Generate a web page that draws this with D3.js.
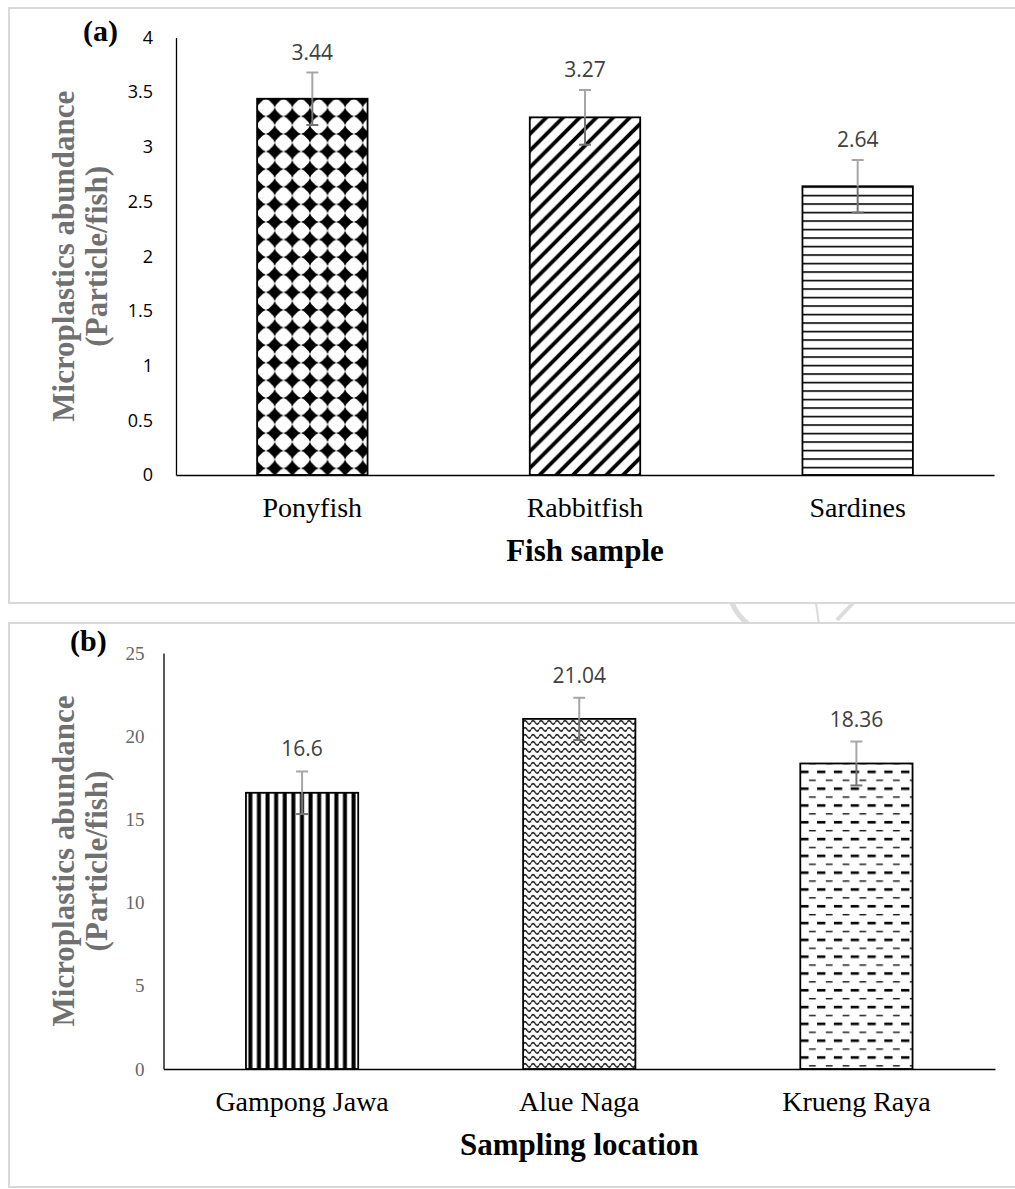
<!DOCTYPE html>
<html>
<head>
<meta charset="utf-8">
<script src="https://cdn.jsdelivr.net/npm/d3@7"></script>
<style>
  body { margin: 0; background: #fff; }
</style>
</head>
<body>
<div id="chart"></div>
<script>
// (a) fish species
var fishSamples = ["Ponyfish", "Rabbitfish", "Sardines"];
var fishAbundance = [3.44, 3.27, 2.64];
var fishError = [0.24, 0.25, 0.24];
var fishTicks = [0, 0.5, 1, 1.5, 2, 2.5, 3, 3.5, 4];

// (b) sampling locations
var locations = ["Gampong Jawa", "Alue Naga", "Krueng Raya"];
var locationAbundance = [16.6, 21.04, 18.36];
var locationError = [1.28, 1.27, 1.32];
var locationTicks = [0, 5, 10, 15, 20, 25];

var svgWidth = 1015;
var svgHeight = 1189;

var svg = d3.select("#chart")
    .append("svg")
    .attr("width", svgWidth)
    .attr("height", svgHeight);

var defs = svg.append("defs");

// watermark bits visible between the two panels
var wm = svg.append("g").attr("fill", "none").attr("stroke", "#dcdcdc");
wm.append("path").attr("d", "M732,603 Q737,615 748,624").attr("stroke-width", 5);
wm.append("path").attr("d", "M816,603 L819,624").attr("stroke-width", 2);
wm.append("path").attr("d", "M837,620 L853,603").attr("stroke-width", 4);

// panel frames
svg.append("rect")
    .attr("x", 9).attr("y", 8).attr("width", 1020).attr("height", 595)
    .attr("fill", "#fff").attr("stroke", "#d9d9d9").attr("stroke-width", 2);
svg.append("rect")
    .attr("x", 9).attr("y", 623).attr("width", 1020).attr("height", 564)
    .attr("fill", "#fff").attr("stroke", "#d9d9d9").attr("stroke-width", 2);

//Fill patterns, anchored on each bar
function starPath(cx, cy) {
  var pts = [[0,-8.8],[1.4,-5.8],[5.8,-1.4],[8.8,0],[5.8,1.4],[1.4,5.8],
             [0,8.8],[-1.4,5.8],[-5.8,1.4],[-8.8,0],[-5.8,-1.4],[-1.4,-5.8]];
  return "M" + pts.map(p => (cx + p[0]) + "," + (cy + p[1])).join("L") + "Z";
}

function addPattern(id, kind, bx, by) {
  var p = defs.append("pattern")
      .attr("id", id)
      .attr("patternUnits", "userSpaceOnUse");
  var s;
  if (kind == "star") {
    s = 17.6;
    p.attr("x", bx).attr("y", by).attr("width", s).attr("height", s);
    p.append("rect").attr("width", s).attr("height", s).attr("fill", "#fff");
    [[0,0],[s,0],[0,s],[s,s]].forEach(function(c) {
      p.append("path").attr("d", starPath(c[0], c[1])).attr("fill", "#000");
    });
  } else if (kind == "diagonal") {
    s = 16.7;
    p.attr("x", bx).attr("y", by).attr("width", s).attr("height", s);
    p.append("rect").attr("width", s).attr("height", s).attr("fill", "#fff");
    p.append("path")
      .attr("d", `M${-s/2},${s/2} L${s/2},${-s/2} M0,${s} L${s},0 M${s/2},${1.5*s} L${1.5*s},${s/2}`)
      .attr("stroke", "#000").attr("stroke-width", 3.8);
  } else if (kind == "hlines") {
    p.attr("x", bx).attr("y", by).attr("width", 10).attr("height", 8.5);
    p.append("rect").attr("width", 10).attr("height", 8.5).attr("fill", "#fff");
    p.append("rect").attr("y", 0).attr("width", 10).attr("height", 1.6).attr("fill", "#000");
  } else if (kind == "vlines") {
    p.attr("x", bx).attr("y", by).attr("width", 8.6).attr("height", 10);
    p.append("rect").attr("width", 8.6).attr("height", 10).attr("fill", "#fff");
    p.append("rect").attr("x", 2.4).attr("width", 4).attr("height", 10).attr("fill", "#000");
  } else if (kind == "wave") {
    p.attr("x", bx).attr("y", by).attr("width", 8).attr("height", 7);
    p.append("rect").attr("width", 8).attr("height", 7).attr("fill", "#fff");
    p.append("path")
      .attr("d", "M0,3.5 Q2,0 4,3.5 Q6,7 8,3.5")
      .attr("fill", "none").attr("stroke", "#000").attr("stroke-width", 1.3);
  } else if (kind == "dash") {
    s = 16.8;
    p.attr("x", bx).attr("y", by + 4.2).attr("width", s).attr("height", s);
    p.append("rect").attr("width", s).attr("height", s).attr("fill", "#fff");
    p.append("rect").attr("x", 0).attr("y", 2.9).attr("width", 8.3).attr("height", 2.6).attr("fill", "#000");
    p.append("rect").attr("x", 8.7).attr("y", 11.95).attr("width", 6.8).attr("height", 1.3).attr("fill", "#000");
  }
}

function drawPanel(cfg) {
  var g = svg.append("g");

  var xBandScale = d3.scaleBand()
      .domain(cfg.categories)
      .range(cfg.xRange)
      .paddingInner(0.595)
      .paddingOuter(0.2975);

  var yLinearScale = d3.scaleLinear()
      .domain([0, d3.max(cfg.ticks)])
      .range(cfg.yRange);

  var data = cfg.categories.map(function(c, i) {
    return { name: c, value: cfg.values[i], err: cfg.errors[i], pattern: cfg.patterns[i], id: cfg.id + i };
  });

  data.forEach(function(d) {
    addPattern(d.id, d.pattern, xBandScale(d.name), yLinearScale(d.value));
  });

  //bars
  g.append("g").selectAll("rect")
    .data(data)
    .enter()
    .append("rect")
    .attr("x", d => xBandScale(d.name))
    .attr("y", d => yLinearScale(d.value))
    .attr("width", xBandScale.bandwidth())
    .attr("height", d => yLinearScale(0) - yLinearScale(d.value))
    .attr("fill", d => `url(#${d.id})`)
    .attr("stroke", "#000")
    .attr("stroke-width", 1.8);

  //axes
  var leftAxis = d3.axisLeft(yLinearScale)
      .tickValues(cfg.ticks)
      .tickFormat(d => String(d))
      .tickSize(0)
      .tickPadding(cfg.tickPad);
  var yAxis = g.append("g")
      .attr("transform", `translate(${cfg.xRange[0]},0)`)
      .call(leftAxis);
  yAxis.select(".domain").attr("stroke", "#000").attr("stroke-width", 1.3);
  yAxis.selectAll("text")
      .attr("font-family", cfg.tickFont)
      .attr("font-size", cfg.tickSize)
      .attr("fill", cfg.tickColor);

  var bottomAxis = d3.axisBottom(xBandScale).tickSize(0).tickSizeOuter(0);
  var xAxis = g.append("g")
      .attr("transform", `translate(0,${cfg.yRange[0]})`)
      .call(bottomAxis);
  xAxis.select(".domain").attr("stroke", "#000").attr("stroke-width", 1.3);
  xAxis.selectAll("text")
      .attr("y", 42)
      .attr("dy", null)
      .attr("font-family", "'Liberation Serif', 'Times New Roman', serif")
      .attr("font-size", 28)
      .attr("fill", "#000");

  //error bars
  var eb = g.append("g").selectAll("g")
    .data(data)
    .enter()
    .append("g");
  eb.append("line")
    .attr("x1", d => xBandScale(d.name) + xBandScale.bandwidth() / 2)
    .attr("x2", d => xBandScale(d.name) + xBandScale.bandwidth() / 2)
    .attr("y1", d => yLinearScale(d.value + d.err))
    .attr("y2", d => yLinearScale(d.value))
    .attr("stroke", "#a6a6a6").attr("stroke-width", 2);
  eb.append("line")
    .attr("x1", d => xBandScale(d.name) + xBandScale.bandwidth() / 2)
    .attr("x2", d => xBandScale(d.name) + xBandScale.bandwidth() / 2)
    .attr("y1", d => yLinearScale(d.value))
    .attr("y2", d => yLinearScale(d.value - d.err))
    .attr("stroke", "#737373").attr("stroke-width", 2);
  eb.append("line")
    .attr("x1", d => xBandScale(d.name) + xBandScale.bandwidth() / 2 - 6)
    .attr("x2", d => xBandScale(d.name) + xBandScale.bandwidth() / 2 + 6)
    .attr("y1", d => yLinearScale(d.value + d.err))
    .attr("y2", d => yLinearScale(d.value + d.err))
    .attr("stroke", "#a6a6a6").attr("stroke-width", 2);
  eb.append("line")
    .attr("x1", d => xBandScale(d.name) + xBandScale.bandwidth() / 2 - 6)
    .attr("x2", d => xBandScale(d.name) + xBandScale.bandwidth() / 2 + 6)
    .attr("y1", d => yLinearScale(d.value - d.err))
    .attr("y2", d => yLinearScale(d.value - d.err))
    .attr("stroke", "#737373").attr("stroke-width", 2);

  //value labels
  g.append("g").selectAll("text")
    .data(data)
    .enter()
    .append("text")
    .attr("x", d => xBandScale(d.name) + xBandScale.bandwidth() / 2)
    .attr("y", d => yLinearScale(d.value + d.err) - cfg.labelGap)
    .attr("text-anchor", "middle")
    .attr("font-family", "'Open Sans', sans-serif")
    .attr("font-size", 21)
    .attr("fill", "#404040")
    .text(d => d.value);

  //axis titles
  var yMid = (cfg.yRange[0] + cfg.yRange[1]) / 2;
  [["Microplastics abundance", 74], ["(Particle/fish)", 107]].forEach(function(t) {
    g.append("text")
      .attr("transform", `translate(${t[1]},${yMid}) rotate(-90)`)
      .attr("text-anchor", "middle")
      .attr("font-family", "'Liberation Serif', 'Times New Roman', serif")
      .attr("font-weight", "bold")
      .attr("font-size", 31)
      .attr("fill", "#707070")
      .text(t[0]);
  });

  g.append("text")
    .attr("x", (cfg.xRange[0] + cfg.xRange[1]) / 2)
    .attr("y", cfg.yRange[0] + 86)
    .attr("text-anchor", "middle")
    .attr("font-family", "'Liberation Serif', 'Times New Roman', serif")
    .attr("font-weight", "bold")
    .attr("font-size", 31)
    .attr("fill", "#000")
    .text(cfg.xTitle);

  g.append("text")
    .attr("x", cfg.tag[1])
    .attr("y", cfg.tag[2])
    .attr("font-family", "'Liberation Serif', 'Times New Roman', serif")
    .attr("font-weight", "bold")
    .attr("font-size", 30)
    .attr("fill", "#000")
    .text(cfg.tag[0]);
}

drawPanel({
  id: "pa",
  categories: fishSamples,
  values: fishAbundance,
  errors: fishError,
  ticks: fishTicks,
  patterns: ["star", "diagonal", "hlines"],
  xRange: [176, 994],
  yRange: [475, 37.5],
  tickPad: 23,
  tickFont: "'Open Sans', sans-serif",
  tickSize: 18,
  tickColor: "#000",
  labelGap: 13,
  xTitle: "Fish sample",
  tag: ["(a)", 83, 41]
});

drawPanel({
  id: "pb",
  categories: locations,
  values: locationAbundance,
  errors: locationError,
  ticks: locationTicks,
  patterns: ["vlines", "wave", "dash"],
  xRange: [163.5, 995],
  yRange: [1069, 653],
  tickPad: 19,
  tickFont: "'Liberation Serif', 'Times New Roman', serif",
  tickSize: 19,
  tickColor: "#666",
  labelGap: 15,
  xTitle: "Sampling location",
  tag: ["(b)", 70, 651]
});
</script>
</body>
</html>
